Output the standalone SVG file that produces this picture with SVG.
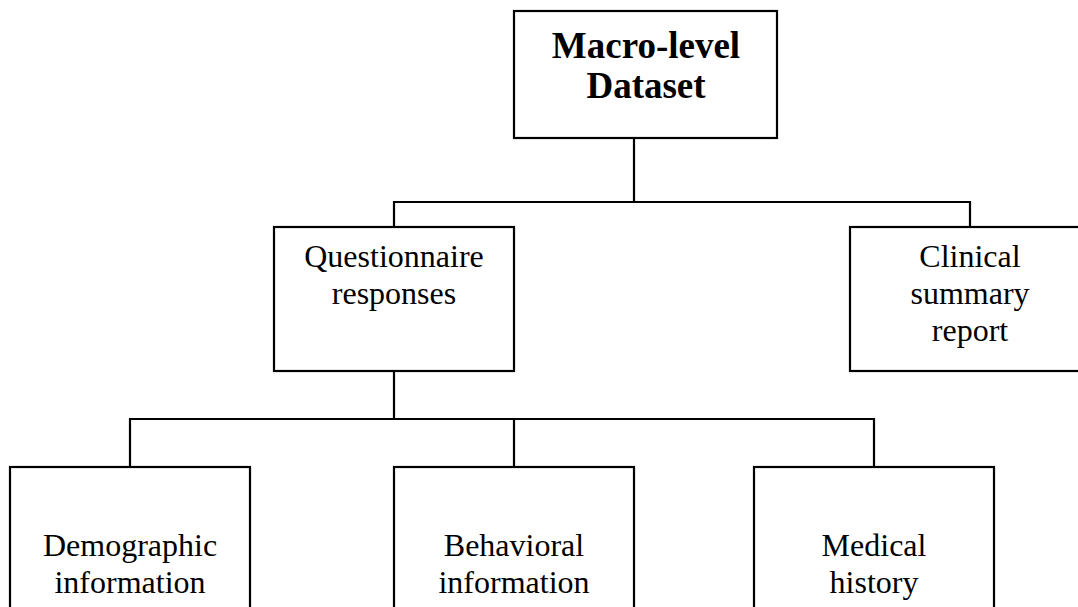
<svg xmlns="http://www.w3.org/2000/svg" width="1078" height="607" viewBox="0 0 1078 607">
<style>
.box{fill:#fff;stroke:#000;stroke-width:2.2}
.con{fill:none;stroke:#000;stroke-width:2.2}
.t{font-family:"Liberation Serif","Times New Roman",serif;font-size:32px;fill:#000;text-anchor:middle}
.b{font-weight:bold;font-size:37px}
</style>
<rect width="1078" height="607" fill="#fff"/>
<g id="connectors">
<path class="con" d="M634 138V202M394 227V202H970V227"/>
<path class="con" d="M394 371V419M130 467V419H874V467M514 419V467"/>
</g>
<g id="macro">
<rect class="box" x="514" y="11" width="263" height="127"/>
<text class="t b" x="646" y="58">Macro-level</text>
<text class="t b" x="646" y="98">Dataset</text>
</g>
<g id="questionnaire">
<rect class="box" x="274" y="227" width="240" height="144"/>
<text class="t" x="394" y="267">Questionnaire</text>
<text class="t" x="394" y="304">responses</text>
</g>
<g id="clinical">
<rect class="box" x="850" y="227" width="240" height="144"/>
<text class="t" x="970" y="267">Clinical</text>
<text class="t" x="970" y="304">summary</text>
<text class="t" x="970" y="341">report</text>
</g>
<g id="demographic">
<rect class="box" x="10" y="467" width="240" height="160"/>
<text class="t" x="130" y="556">Demographic</text>
<text class="t" x="130" y="593">information</text>
</g>
<g id="behavioral">
<rect class="box" x="394" y="467" width="240" height="160"/>
<text class="t" x="514" y="556">Behavioral</text>
<text class="t" x="514" y="593">information</text>
</g>
<g id="medical">
<rect class="box" x="754" y="467" width="240" height="160"/>
<text class="t" x="874" y="556">Medical</text>
<text class="t" x="874" y="593">history</text>
</g>
</svg>
